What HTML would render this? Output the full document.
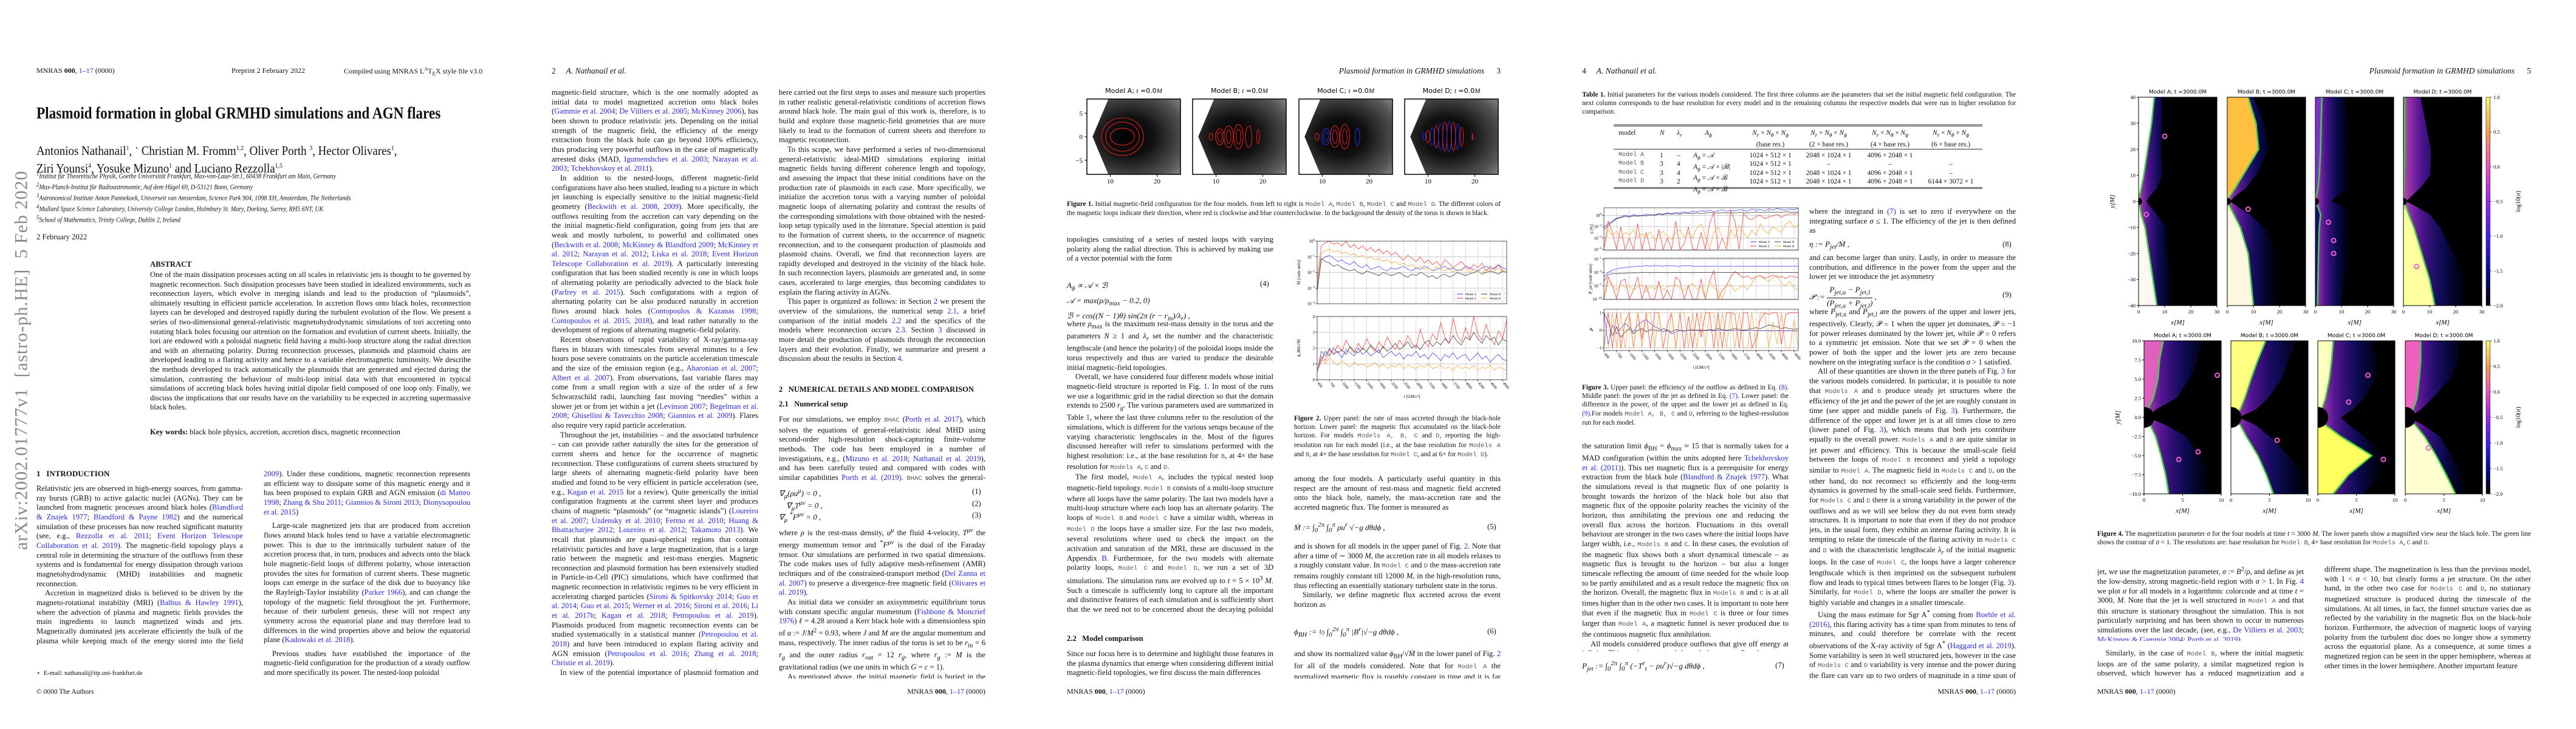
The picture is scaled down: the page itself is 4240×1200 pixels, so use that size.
<!DOCTYPE html>
<html lang="en"><head><meta charset="utf-8">
<style>
html,body{margin:0;padding:0;background:#fff;}
body{width:4240px;height:1200px;position:relative;overflow:hidden;font-family:"Liberation Serif",serif;color:#111;}
.page{position:absolute;top:0;width:848px;height:1200px;background:#fff;}
.abs{position:absolute;}
.hdr{position:absolute;top:109px;font-size:13.5px;white-space:nowrap;}
.col{position:absolute;font-size:12.6px;line-height:15.66px;text-align:justify;overflow:hidden;hyphens:auto;-webkit-hyphens:auto;}
.col p{margin:0;text-indent:14px;}
.col p.ni{text-indent:0;}
.cap{position:absolute;font-size:11.2px;line-height:14.2px;text-align:justify;overflow:hidden;}
a,.l{color:#2a2ad0;text-decoration:none;}
.tt{font-family:"Liberation Mono",monospace;font-size:10.5px;color:#555;}
.eq{position:absolute;font-size:13px;font-style:italic;white-space:nowrap;}
.eqn{position:absolute;font-size:12.6px;white-space:nowrap;}
.sec{position:absolute;font-size:13px;font-weight:bold;white-space:nowrap;}
.foot{position:absolute;top:1131px;font-size:12px;white-space:nowrap;}
svg.over{position:absolute;left:0;top:0;}
</style></head>
<body>

<!-- PAGE 1 -->
<div class="page" style="left:0">
 <div class="hdr" style="left:60px;font-size:12px">MNRAS <b>000</b>, <span class="l">1–17</span> (0000)</div>
 <div class="hdr" style="left:381px;font-size:12px">Preprint 2 February 2022</div>
 <div class="hdr" style="left:566px;font-size:12px">Compiled using MNRAS L<sup style="font-size:8px">A</sup>T<sub style="font-size:9px">E</sub>X style file v3.0</div>
 <div class="abs" style="left:60px;top:171px;font-size:27px;font-weight:bold;white-space:nowrap;transform:scaleX(0.86);transform-origin:left top">Plasmoid formation in global GRMHD simulations and AGN flares</div>
 <div class="abs" style="left:60px;top:232px;font-size:21px;line-height:25px;white-space:nowrap;transform:scaleX(0.9);transform-origin:left top">Antonios Nathanail<sup style="font-size:11px">1</sup>, <sup style="font-size:11px;color:#2a2ad0">⋆</sup> Christian M. Fromm<sup style="font-size:11px">1,2</sup>, Oliver Porth <sup style="font-size:11px">3</sup>, Hector Olivares<sup style="font-size:11px">1</sup>,<br>Ziri Younsi<sup style="font-size:11px">4</sup>, Yosuke Mizuno<sup style="font-size:11px">1</sup> and Luciano Rezzolla<sup style="font-size:11px">1,5</sup></div>
 <div class="abs" style="left:60px;top:280px;font-size:11.2px;line-height:14.2px;font-style:italic;white-space:nowrap;transform:scaleX(0.9);transform-origin:left top">
  <sup>1</sup>Institut für Theoretische Physik, Goethe Universität Frankfurt, Max-von-Laue-Str.1, 60438 Frankfurt am Main, Germany<br>
  <sup>2</sup>Max-Planck-Institut für Radioastronomie, Auf dem Hügel 69, D-53121 Bonn, Germany<br>
  <sup>3</sup>Astronomical Institute Anton Pannekoek, Universeit van Amsterdam, Science Park 904, 1098 XH, Amsterdam, The Netherlands<br>
  <sup>4</sup>Mullard Space Science Laboratory, University College London, Holmbury St. Mary, Dorking, Surrey, RH5 6NT, UK<br>
  <sup>5</sup>School of Mathematics, Trinity College, Dublin 2, Ireland</div>
 <div class="abs" style="left:60px;top:383px;font-size:12.6px">2 February 2022</div>
 <div class="abs" style="left:-240px;top:612px;width:551px;height:36px;transform:rotate(-90deg);font-size:30px;color:#8a8a8a;white-space:nowrap;text-align:center;line-height:36px;letter-spacing:1px">arXiv:2002.01777v1&nbsp;&nbsp;[astro-ph.HE]&nbsp;&nbsp;5 Feb 2020</div>
 <div class="sec" style="left:247px;top:428px;font-size:12.6px">ABSTRACT</div>
 <div class="col" style="left:247px;top:445px;width:528px;height:250px;line-height:15.6px"><p class="ni">One of the main dissipation processes acting on all scales in relativistic jets is thought to be governed by magnetic reconnection. Such dissipation processes have been studied in idealized environments, such as reconnection layers, which evolve in merging islands and lead to the production of “plasmoids”, ultimately resulting in efficient particle acceleration. In accretion flows onto black holes, reconnection layers can be developed and destroyed rapidly during the turbulent evolution of the flow. We present a series of two-dimensional general-relativistic magnetohydrodynamic simulations of tori accreting onto rotating black holes focusing our attention on the formation and evolution of current sheets. Initially, the tori are endowed with a poloidal magnetic field having a multi-loop structure along the radial direction and with an alternating polarity. During reconnection processes, plasmoids and plasmoid chains are developed leading to a flaring activity and hence to a variable electromagnetic luminosity. We describe the methods developed to track automatically the plasmoids that are generated and ejected during the simulation, contrasting the behaviour of multi-loop initial data with that encountered in typical simulations of accreting black holes having initial dipolar field composed of one loop only. Finally, we discuss the implications that our results have on the variability to be expected in accreting supermassive black holes.</p></div>
 <div class="abs" style="left:247px;top:704px;font-size:12.6px;white-space:nowrap"><b>Key words:</b> black hole physics, accretion, accretion discs, magnetic reconnection</div>
 <div class="sec" style="left:60px;top:772px">1&nbsp;&nbsp;&nbsp;INTRODUCTION</div>
 <div class="col" style="left:60px;top:797px;width:340px;height:267px"><p class="ni">Relativistic jets are observed in high-energy sources, from gamma-ray bursts (GRB) to active galactic nuclei (AGNs). They can be launched from magnetic processes around black holes (<a>Blandford &amp; Znajek 1977</a>; <a>Blandford &amp; Payne 1982</a>) and the numerical simulation of these processes has now reached significant maturity (see, e.g., <a>Rezzolla et al. 2011</a>; <a>Event Horizon Telescope Collaboration et al. 2019</a>). The magnetic-field topology plays a central role in determining the structure of the outflows from these systems and is fundamental for energy dissipation through various magnetohydrodynamic (MHD) instabilities and magnetic reconnection.</p><p>Accretion in magnetized disks is believed to be driven by the magneto-rotational instability (MRI) (<a>Balbus &amp; Hawley 1991</a>), where the advection of plasma and magnetic fields provides the main ingredients to launch magnetized winds and jets. Magnetically dominated jets accelerate efficiently the bulk of the plasma while keeping much of the energy stored into the field itself (<a>Komissarov et al. 2009</a>; <a>Lyubarsky 2009</a>; <a>Tchekhovskoy et al.</a></p></div>
 <div class="abs" style="left:60px;top:1102px;font-size:10.5px;white-space:nowrap">⋆&nbsp; E-mail: nathanail@itp.uni-frankfurt.de</div>
 <div class="abs" style="left:60px;top:1133px;font-size:11.5px;white-space:nowrap">© 0000 The Authors</div>
 <div class="col" style="left:434px;top:773px;width:340px;height:345px"><p class="ni"><a>2009</a>). Under these conditions, magnetic reconnection represents an efficient way to dissipate some of this magnetic energy and it has been proposed to explain GRB and AGN emission (<a>di Matteo 1998</a>; <a>Zhang &amp; Shu 2011</a>; <a>Giannios &amp; Sironi 2013</a>; <a>Dionysopoulou et al. 2015</a>)</p><p style="margin-top:7px">Large-scale magnetized jets that are produced from accretion flows around black holes tend to have a variable electromagnetic power. This is due to the intrinsically turbulent nature of the accretion process that, in turn, produces and advects onto the black hole magnetic-field loops of different polarity, whose interaction provides the sites for formation of current sheets. These magnetic loops can emerge in the surface of the disk due to buoyancy like the Rayleigh-Taylor instability (<a>Parker 1966</a>), and can change the topology of the magnetic field throughout the jet. Furthermore, because of their turbulent genesis, these will not respect any symmetry across the equatorial plane and may therefore lead to differences in the wind properties above and below the equatorial plane (<a>Kadowaki et al. 2018</a>).</p><p style="margin-top:7px">Previous studies have established the importance of the magnetic-field configuration for the production of a steady outflow and more specifically its power. The nested-loop poloidal</p></div>
</div>

<!-- PAGE 2 -->
<div class="page" style="left:848px">
 <div class="hdr" style="left:60px">2&nbsp;&nbsp;&nbsp;&nbsp;&nbsp;<i>A. Nathanail et al.</i></div>
 <div class="col" style="left:60px;top:145px;width:340px;height:972px"><p class="ni">magnetic-field structure, which is the one normally adopted as initial data to model magnetized accretion onto black holes (<a>Gammie et al. 2004</a>; <a>De Villiers et al. 2005</a>; <a>McKinney 2006</a>), has been shown to produce relativistic jets. Depending on the initial strength of the magnetic field, the efficiency of the energy extraction from the black hole can go beyond 100% efficiency, thus producing very powerful outflows in the case of magnetically arrested disks (MAD, <a>Igumenshchev et al. 2003</a>; <a>Narayan et al. 2003</a>; <a>Tchekhovskoy et al. 2011</a>).</p><p>In addition to the nested-loops, different magnetic-field configurations have also been studied, leading to a picture in which jet launching is especially sensitive to the initial magnetic-field geometry (<a>Beckwith et al. 2008, 2009</a>). More specifically, the outflows resulting from the accretion can vary depending on the the initial magnetic-field configuration, going from jets that are weak and mostly turbulent, to powerful and collimated ones (<a>Beckwith et al. 2008</a>; <a>McKinney &amp; Blandford 2009</a>; <a>McKinney et al. 2012</a>; <a>Narayan et al. 2012</a>; <a>Liska et al. 2018</a>; <a>Event Horizon Telescope Collaboration et al. 2019</a>). A particularly interesting configuration that has been studied recently is one in which loops of alternating polarity are periodically advected to the black hole (<a>Parfrey et al. 2015</a>). Such configurations with a region of alternating polarity can be also produced naturally in accretion flows around black holes (<a>Contopoulos &amp; Kazanas 1998</a>; <a>Contopoulos et al. 2015, 2018</a>), and lead rather naturally to the development of regions of alternating magnetic-field polarity.</p><p>Recent observations of rapid variability of X-ray/gamma-ray flares in blazars with timescales from several minutes to a few hours pose severe constraints on the particle acceleration timescale and the size of the emission region (e.g., <a>Aharonian et al. 2007</a>; <a>Albert et al. 2007</a>). From observations, fast variable flares may come from a small region with a size of the order of a few Schwarzschild radii, launching fast moving “needles” within a slower jet or from jet within a jet (<a>Levinson 2007</a>; <a>Begelman et al. 2008</a>; <a>Ghisellini &amp; Tavecchio 2008</a>; <a>Giannios et al. 2009</a>). Flares also require very rapid particle acceleration.</p><p>Throughout the jet, instabilities – and the associated turbulence – can can provide rather naturally the sites for the generation of current sheets and hence for the occurrence of magnetic reconnection. These configurations of current sheets structured by large sheets of alternating magnetic-field polarity have been studied and found to be very efficient in particle acceleration (see, e.g., <a>Kagan et al. 2015</a> for a review). Quite generically the initial configuration fragments at the current sheet layer and produces chains of magnetic “plasmoids” (or “magnetic islands”) (<a>Loureiro et al. 2007</a>; <a>Uzdensky et al. 2010</a>; <a>Fermo et al. 2010</a>; <a>Huang &amp; Bhattacharjee 2012</a>; <a>Loureiro et al. 2012</a>; <a>Takamoto 2013</a>). We recall that plasmoids are quasi-spherical regions that contain relativistic particles and have a large magnetization, that is a large ratio between the magnetic and rest-mass energies. Magnetic reconnection and plasmoid formation has been extensively studied in Particle-in-Cell (PIC) simulations, which have confirmed that magnetic reconnection in relativistic regimes to be very efficient in accelerating charged particles (<a>Sironi &amp; Spitkovsky 2014</a>; <a>Guo et al. 2014</a>; <a>Guo et al. 2015</a>; <a>Werner et al. 2016</a>; <a>Sironi et al. 2016</a>; <a>Li et al. 2017b</a>; <a>Kagan et al. 2018</a>; <a>Petropoulou et al. 2019</a>). Plasmoids produced from magnetic reconnection events can be studied systematically in a statistical manner (<a>Petropoulou et al. 2018</a>) and have been introduced to explain flaring activity and AGN emission (<a>Petropoulou et al. 2016</a>; <a>Zhang et al. 2018</a>; <a>Christie et al. 2019</a>).</p><p>In view of the potential importance of plasmoid formation and evolution in the dynamics and energetics of relativistic jets, we have</p></div>
 <div class="col" style="left:434px;top:145px;width:340px;height:455px"><p class="ni">here carried out the first steps to asses and measure such properties in rather realistic general-relativistic conditions of accretion flows around black hole. The main goal of this work is, therefore, is to build and explore those magnetic-field geometries that are more likely to lead to the formation of current sheets and therefore to magnetic reconnection.</p><p>To this scope, we have performed a series of two-dimensional general-relativistic ideal-MHD simulations exploring initial magnetic fields having different coherence length and topology, and assessing the impact that these initial conditions have on the production rate of plasmoids in each case. More specifically, we initialize the accretion torus with a varying number of poloidal magnetic loops of alternating polarity and contrast the results of the corresponding simulations with those obtained with the nested-loop setup typically used in the literature. Special attention is paid to the formation of current sheets, to the occurrence of magnetic reconnection, and to the consequent production of plasmoids and plasmoid chains. Overall, we find that reconnection layers are rapidly developed and destroyed in the vicinity of the black hole. In such reconnection layers, plasmoids are generated and, in some cases, accelerated to large energies, thus becoming candidates to explain the flaring activity in AGNs.</p><p>This paper is organized as follows: in Section <a>2</a> we present the overview of the simulations, the numerical setup <a>2.1</a>, a brief comparison of the initial models <a>2.2</a> and the specifics of the models where reconnection occurs <a>2.3</a>. Section <a>3</a> discussed in more detail the production of plasmoids through the reconnection layers and their evolution. Finally, we summarize and present a discussion about the results in Section <a>4</a>.</p></div>
 <div class="sec" style="left:434px;top:634px;font-size:12.6px">2&nbsp;&nbsp;&nbsp;NUMERICAL DETAILS AND MODEL COMPARISON</div>
 <div class="sec" style="left:434px;top:658px;font-size:12.6px">2.1&nbsp;&nbsp;&nbsp;Numerical setup</div>
 <div class="col" style="left:434px;top:683px;width:340px;height:110px"><p class="ni">For our simulations, we employ <span class="tt">BHAC</span> (<a>Porth et al. 2017</a>), which solves the equations of general-relativistic ideal MHD using second-order high-resolution shock-capturing finite-volume methods. The code has been employed in a number of investigations, e.g., (<a>Mizuno et al. 2018</a>; <a>Nathanail et al. 2019</a>), and has been carefully tested and compared with codes with similar capabilities <a>Porth et al. (2019)</a>. <span class="tt">BHAC</span> solves the general-relativistic MHD equations</p></div>
 <div class="eq" style="left:434px;top:802px">∇<sub>μ</sub>(ρu<sup>μ</sup>) = 0 ,</div>
 <div class="eq" style="left:446px;top:822px">∇<sub>μ</sub>T<sup>μν</sup> = 0 ,</div>
 <div class="eq" style="left:434px;top:841px">∇<sub>μ</sub> <sup>*</sup>F<sup>μν</sup> = 0 ,</div>
 <div class="eqn" style="left:752px;top:802px">(1)</div>
 <div class="eqn" style="left:752px;top:822px">(2)</div>
 <div class="eqn" style="left:752px;top:841px">(3)</div>
 <div class="col" style="left:434px;top:866px;width:340px;height:251px"><p class="ni">where <i>ρ</i> is the rest-mass density, <i>u<sup>μ</sup></i> the fluid 4-velocity, <i>T<sup>μν</sup></i> the energy momentum tensor and <sup>*</sup><i>F<sup>μν</sup></i> is the dual of the Faraday tensor. Our simulations are performed in two spatial dimensions. The code makes uses of fully adaptive mesh-refinement (AMR) techniques and of the constrained-transport method (<a>Del Zanna et al. 2007</a>) to preserve a divergence-free magnetic field (<a>Olivares et al. 2019</a>).</p><p>As initial data we consider an axisymmetric equilibrium torus with constant specific angular momentum (<a>Fishbone &amp; Moncrief 1976</a>) <i>ℓ</i> = 4.28 around a Kerr black hole with a dimensionless spin of <i>a</i> := <i>J</i>/<i>M</i><sup>2</sup> = 0.93, where <i>J</i> and <i>M</i> are the angular momentum and mass, respectively. The inner radius of the torus is set to be <i>r</i><sub>in</sub> = 6 <i>r<sub>g</sub></i> and the outer radius <i>r</i><sub>out</sub> = 12 <i>r<sub>g</sub></i>, where <i>r<sub>g</sub></i> := <i>M</i> is the gravitational radius (we use units in which <i>G</i> = <i>c</i> = 1).</p><p>As mentioned above, the initial magnetic field is buried in the torus and purely poloidal, but chosen so as to have four different</p></div>
 <div class="foot" style="right:74px">MNRAS <b>000</b>, <span class="l">1–17</span> (0000)</div>
</div>

<!-- PAGE 3 -->
<div class="page" style="left:1696px">
 <div class="hdr" style="right:74px"><i>Plasmoid formation in GRMHD simulations</i>&nbsp;&nbsp;&nbsp;&nbsp;&nbsp;&nbsp;3</div>
 <svg class="over" id="p3svg" width="848" height="1200"></svg>
 <div class="cap" style="left:60px;top:329px;width:714px;height:30px"><b>Figure 1.</b> Initial magnetic-field configuration for the four models. from left to right is <span class="tt">Model A</span>, <span class="tt">Model B</span>, <span class="tt">Model C</span> and <span class="tt">Model D</span>. The different colors of the magnetic loops indicate their direction, where red is clockwise and blue counterclockwise. In the background the density of the torus is shown in black.</div>
 <div class="col" style="left:60px;top:387px;width:340px;height:48px"><p class="ni">topologies consisting of a series of nested loops with varying polarity along the radial direction. This is achieved by making use of a vector potential with the form</p></div>
 <div class="eq" style="left:60px;top:460px;line-height:19.5px">A<sub>ϕ</sub> ∝ 𝒜 × ℬ<br>𝒜 = max(ρ/ρ<sub>max</sub> − 0.2, 0)<br>ℬ = cos((N − 1)θ) sin(2π (r − r<sub>in</sub>)/λ<sub>r</sub>) ,</div>
 <div class="eqn" style="left:378px;top:460px">(4)</div>
 <div class="col" style="left:60px;top:526px;width:340px;height:487px"><p class="ni">where <i>ρ</i><sub>max</sub> is the maximum rest-mass density in the torus and the parameters <i>N</i> ≥ 1 and <i>λ<sub>r</sub></i> set the number and the characteristic lengthscale (and hence the polarity) of the poloidal loops inside the torus respectively and thus are varied to produce the desirable initial magnetic-field topologies.</p><p>Overall, we have considered four different models whose initial magnetic-field structure is reported in Fig. <a>1</a>. In most of the runs we use a logarithmic grid in the radial direction so that the domain extends to 2500 <i>r<sub>g</sub></i>. The various parameters used are summarized in Table <a>1</a>, where the last three columns refer to the resolution of the simulations, which is different for the various setups because of the varying characteristic lengthscales in the. Most of the figures discussed hereafter will refer to simulations performed with the highest resolution: i.e., at the base resolution for <span class="tt">B</span>, at 4× the base resolution for <span class="tt">Models A</span>, <span class="tt">C</span> and <span class="tt">D</span>.</p><p>The first model, <span class="tt">Model A</span>, includes the typical nested loop magnetic-field topology. <span class="tt">Model B</span> consists of a multi-loop structure where all loops have the same polarity. The last two models have a multi-loop structure where each loop has an alternate polarity. The loops of <span class="tt">Model B</span> and <span class="tt">Model C</span> have a similar width, whereas in <span class="tt">Model D</span> the loops have a smaller size. For the last two models, several resolutions where used to check the impact on the activation and saturation of the MRI, these are discussed in the Appendix <a>B</a>. Furthermore, for the two models with alternate polarity loops, <span class="tt">Model C</span> and <span class="tt">Model D</span>, we run a set of 3<i>D</i> simulations. The simulation runs are evolved up to <i>t</i> = 5 × 10<sup>3</sup> <i>M</i>. Such a timescale is sufficiently long to capture all the important and distinctive features of each simulation and is sufficiently short that the we need not to be concerned about the decaying poloidal magnetic field, which takes place in axisymmetry as a consequence of the decay of turbulence (<a>Cowling 1933</a>; <a>Sądowski et al. 2015</a>).</p></div>
 <div class="sec" style="left:60px;top:1044px;font-size:12.6px">2.2&nbsp;&nbsp;&nbsp;Model comparison</div>
 <div class="col" style="left:60px;top:1069px;width:340px;height:48px"><p class="ni">Since our focus here is to determine and highlight those features in the plasma dynamics that emerge when considering different initial magnetic-field topologies, we first discuss the main differences</p></div>
 <div class="cap" style="left:434px;top:682px;width:340px;height:72px"><b>Figure 2.</b> Upper panel: the rate of mass accreted through the black-hole horizon. Lower panel: the magnetic flux accumulated on the black-hole horizon. For models <span class="tt">Models A, B, C</span> and <span class="tt">D</span>, reporting the high-resolution run for each model (i.e., at the base resolution for <span class="tt">Models A</span> and <span class="tt">B</span>, at 4× the base resolution for <span class="tt">Model C</span>, and at 6× for <span class="tt">Model D</span>).</div>
 <div class="col" style="left:434px;top:781px;width:340px;height:63px"><p class="ni">among the four models. A particularly useful quantity in this respect are the amount of rest-mass and magnetic field accreted onto the black hole, namely, the mass-accretion rate and the accreted magnetic flux. The former is measured as</p></div>
 <div class="eq" style="left:434px;top:858px">Ṁ := ∫<sub>0</sub><sup>2π</sup> ∫<sub>0</sub><sup>π</sup> ρu<sup>r</sup> √−g dθdϕ ,</div>
 <div class="eqn" style="left:752px;top:860px">(5)</div>
 <div class="col" style="left:434px;top:892px;width:340px;height:126px"><p class="ni">and is shown for all models in the upper panel of Fig. <a>2</a>. Note that after a time of ∼ 3000 <i>M</i>, the accretion rate in all models relaxes to a roughly constant value. In <span class="tt">Model C</span> and <span class="tt">D</span> the mass-accretion rate remains roughly constant till 12000 <i>M</i>, in the high-resolution runs, thus reflecting an essentially stationary turbulent state in the torus.</p><p>Similarly, we define magnetic flux accreted across the event horizon as</p></div>
 <div class="eq" style="left:434px;top:1030px">ϕ<sub>BH</sub> := ½ ∫<sub>0</sub><sup>2π</sup> ∫<sub>0</sub><sup>π</sup> |B<sup>r</sup>|√−g dθdϕ ,</div>
 <div class="eqn" style="left:752px;top:1032px">(6)</div>
 <div class="col" style="left:434px;top:1069px;width:340px;height:48px"><p class="ni">and show its normalized value <i>ϕ</i><sub>BH</sub>/√<i>Ṁ</i> in the lower panel of Fig. <a>2</a> for all of the models considered. Note that for <span class="tt">Model A</span> the normalized magnetic flux is roughly constant in time and it is far below</p></div>
 <div class="foot" style="left:60px">MNRAS <b>000</b>, <span class="l">1–17</span> (0000)</div>
</div>

<!-- PAGE 4 -->
<div class="page" style="left:2544px">
 <div class="hdr" style="left:60px">4&nbsp;&nbsp;&nbsp;&nbsp;&nbsp;<i>A. Nathanail et al.</i></div>
 <div class="cap" style="left:60px;top:149px;width:714px;height:44px"><b>Table 1.</b> Initial parameters for the various models considered. The first three columns are the parameters that set the initial magnetic field configuration. The next column corresponds to the base resolution for every model and in the remaining columns the respective models that were run in higher resolution for comparison.</div>
 <div class="abs" style="left:112px;top:205px;width:607px;border-top:3px double #333"></div>
 <div class="abs" style="left:112px;top:245px;width:607px;border-top:1px solid #333"></div>
 <div class="abs" style="left:112px;top:308px;width:607px;border-top:3px double #333"></div>
 <div class="abs" style="left:0;top:0;font-size:11.3px;line-height:14.4px;white-space:nowrap">
  <div class="abs" style="left:120px;top:212px">model</div>
  <div class="abs" style="left:188px;top:212px"><i>N</i></div>
  <div class="abs" style="left:216px;top:212px"><i>λ<sub>r</sub></i></div>
  <div class="abs" style="left:262px;top:212px"><i>A<sub>ϕ</sub></i></div>
  <div class="abs" style="left:330px;top:212px;text-align:center;width:80px"><i>N<sub>r</sub></i> × <i>N<sub>θ</sub></i> × <i>N<sub>ϕ</sub></i><br>(base res.)</div>
  <div class="abs" style="left:426px;top:212px;text-align:center;width:80px"><i>N<sub>r</sub></i> × <i>N<sub>θ</sub></i> × <i>N<sub>ϕ</sub></i><br>(2 × base res.)</div>
  <div class="abs" style="left:527px;top:212px;text-align:center;width:80px"><i>N<sub>r</sub></i> × <i>N<sub>θ</sub></i> × <i>N<sub>ϕ</sub></i><br>(4 × base res.)</div>
  <div class="abs" style="left:627px;top:212px;text-align:center;width:80px"><i>N<sub>r</sub></i> × <i>N<sub>θ</sub></i> × <i>N<sub>ϕ</sub></i><br>(6 × base res.)</div>
  <div class="abs tt" style="left:120px;top:249px;line-height:14.4px;font-size:10px">Model A<br>Model B<br>Model C<br>Model D</div>
  <div class="abs" style="left:188px;top:249px">1<br>3<br>3<br>3</div>
  <div class="abs" style="left:216px;top:249px">–<br>4<br>4<br>2</div>
  <div class="abs" style="left:243px;top:249px"><i>A<sub>ϕ</sub></i> = 𝒜<br><i>A<sub>ϕ</sub></i> = 𝒜 × |ℬ|<br><i>A<sub>ϕ</sub></i> = 𝒜 × ℬ<br><i>A<sub>ϕ</sub></i> = 𝒜 × ℬ</div>
  <div class="abs" style="left:330px;top:249px;width:80px;text-align:center">1024 × 512 × 1<br>1024 × 512 × 1<br>1024 × 512 × 1<br>1024 × 512 × 1</div>
  <div class="abs" style="left:426px;top:249px;width:80px;text-align:center">2048 × 1024 × 1<br>–<br>2048 × 1024 × 1<br>2048 × 1024 × 1</div>
  <div class="abs" style="left:527px;top:249px;width:80px;text-align:center">4096 × 2048 × 1<br>–<br>4096 × 2048 × 1<br>4096 × 2048 × 1</div>
  <div class="abs" style="left:627px;top:249px;width:80px;text-align:center"><br>–<br>–<br>6144 × 3072 × 1</div>
 </div>
 <svg class="over" id="p4svg" width="848" height="1200"></svg>
 <div class="cap" style="left:60px;top:631px;width:340px;height:72px"><b>Figure 3.</b> Upper panel: the efficiency of the outflow as defined in Eq. <a>(8)</a>. Middle panel: the power of the jet as defined in Eq. <a>(7)</a>. Lower panel: the difference in the power, of the upper and the lower jet as defined in Eq. <a>(9)</a>.For models <span class="tt">Model A, B, C</span> and <span class="tt">D</span>, referring to the highest-resolution run for each model.</div>
 <div class="col" style="left:60px;top:727px;width:340px;height:345px"><p class="ni">the saturation limit <i>ϕ</i><sub>BH</sub> = <i>ϕ</i><sub>max</sub> ≈ 15 that is normally taken for a MAD configuration (within the units adopted here <a>Tchekhovskoy et al. (2011)</a>). This net magnetic flux is a prerequisite for energy extraction from the black hole (<a>Blandford &amp; Znajek 1977</a>). What the simulations reveal is that magnetic flux of one polarity is brought towards the horizon of the black hole but also that magnetic flux of the opposite polarity reaches the vicinity of the horizon, thus annihilating the previous one and reducing the overall flux across the horizon. Fluctuations in this overall behaviour are stronger in the two cases where the initial loops have larger width, i.e., <span class="tt">Models B</span> and <span class="tt">C</span>. In these cases, the evolution of the magnetic flux shows both a short dynamical timescale – as magnetic flux is brought to the horizon – but also a longer timescale reflecting the amount of time needed for the whole loop to be partly annihilated and as a result reduce the magnetic flux on the horizon. Overall, the magnetic flux in <span class="tt">Models B</span> and <span class="tt">C</span> is at all times higher than in the other two cases. It is important to note here that even if the magnetic flux in <span class="tt">Model C</span> is three or four times larger than <span class="tt">Model A</span>, a magnetic funnel is never produced due to the continuous magnetic flux annihilation.</p><p>All models considered produce outflows that give off energy at infinity. This can be measured through the energy flux that passes through a 2-sphere placed at 50 <i>r<sub>g</sub></i></p></div>
 <div class="eq" style="left:60px;top:1086px">P<sub>jet</sub> := ∫<sub>0</sub><sup>2π</sup> ∫<sub>0</sub><sup>π</sup> (−T<sup>r</sup><sub>t</sub> − ρu<sup>r</sup>)√−g dθdϕ ,</div>
 <div class="eqn" style="left:378px;top:1088px">(7)</div>
 <div class="col" style="left:434px;top:341px;width:340px;height:48px"><p class="ni">where the integrand in <a>(7)</a> is set to zero if everywhere on the integrating surface <i>σ</i> ≤ 1. The efficiency of the jet is then defined as</p></div>
 <div class="eq" style="left:434px;top:394px">η := P<sub>jet</sub>/Ṁ ,</div>
 <div class="eqn" style="left:752px;top:395px">(8)</div>
 <div class="col" style="left:434px;top:417px;width:340px;height:48px"><p class="ni">and can become larger than unity. Lastly, in order to measure the contribution, and difference in the power from the upper and the lower jet we introduce the jet asymmetry</p></div>
 <div class="eq" style="left:434px;top:469px;line-height:16px">𝒫 := <span style="display:inline-block;text-align:center;vertical-align:middle"><span style="border-bottom:1px solid #111;display:block">P<sub>jet,u</sub> − P<sub>jet,l</sub></span>(P<sub>jet,u</sub> + P<sub>jet,l</sub>)</span> ,</div>
 <div class="eqn" style="left:752px;top:478px">(9)</div>
 <div class="col" style="left:434px;top:506px;width:340px;height:611px"><p class="ni">where <i>P</i><sub>jet,u</sub> and <i>P</i><sub>jet,l</sub> are the powers of the upper and lower jets, respectively. Clearly, 𝒫 ≃ 1 when the upper jet dominates, 𝒫 ≃ −1 for power releases dominated by the lower jet, while 𝒫 ≃ 0 refers to a symmetric jet emission. Note that we set 𝒫 = 0 when the power of both the upper and the lower jets are zero because nowhere on the integrating surface is the condition <i>σ</i> &gt; 1 satisfied.</p><p>All of these quantities are shown in the three panels of Fig. <a>3</a> for the various models considered. In particular, it is possible to note that <span class="tt">Models A</span> and <span class="tt">B</span> produce steady jet structures where the efficiency of the jet and the power of the jet are roughly constant in time (see upper and middle panels of Fig. <a>3</a>). Furthermore, the difference of the upper and lower jet is at all times close to zero (lower panel of Fig. <a>3</a>), which means that both jets contribute equally to the overall power. <span class="tt">Models A</span> and <span class="tt">B</span> are quite similar in jet power and efficiency. This is because the small-scale field between the loops of <span class="tt">Model B</span> reconnect and yield a topology similar to <span class="tt">Model A</span>. The magnetic field in <span class="tt">Models C</span> and <span class="tt">D</span>, on the other hand, do not reconnect so efficiently and the long-term dynamics is governed by the small-scale seed fields. Furthermore, for <span class="tt">Models C</span> and <span class="tt">D</span> there is a strong variability in the power of the outflows and as we will see below they do not even form steady structures. It is important to note that even if they do not produce jets, in the usual form, they exhibit an intense flaring activity. It is tempting to relate the timescale of the flaring activity in <span class="tt">Models C</span> and <span class="tt">D</span> with the characteristic lengthscale <i>λ<sub>r</sub></i> of the initial magnetic loops. In the case of <span class="tt">Model C</span>, the loops have a larger coherence lengthscale which is then imprinted on the subsequent turbulent flow and leads to typical times between flares to be longer (Fig. <a>3</a>). Similarly, for <span class="tt">Model D</span>, where the loops are smaller the power is highly variable and changes in a smaller timescale.</p><p>Using the mass estimate for Sgr A<sup>*</sup> coming from <a>Boehle et al. (2016)</a>, this flaring activity has a time span from minutes to tens of minutes, and could therefore be correlate with the recent observations of the X-ray activity of Sgr A<sup>*</sup> (<a>Haggard et al. 2019</a>). Some variability is seen in well structured jets, however in the case of <span class="tt">Models C</span> and <span class="tt">D</span> variability is very intense and the power during the flare can vary up to two orders of magnitude in a time span of tens of minutes for Sgr A<sup>*</sup> (<a>Do et al. 2019</a>).</p><p>In order to delimit and visualize the region representing the</p></div>
 <div class="foot" style="right:74px">MNRAS <b>000</b>, <span class="l">1–17</span> (0000)</div>
</div>

<!-- PAGE 5 -->
<div class="page" style="left:3392px">
 <div class="hdr" style="right:74px"><i>Plasmoid formation in GRMHD simulations</i>&nbsp;&nbsp;&nbsp;&nbsp;&nbsp;&nbsp;5</div>
 <svg class="over" id="p5svg" width="848" height="1200"></svg>
 <div class="cap" style="left:60px;top:872px;width:714px;height:30px"><b>Figure 4.</b> The magnetization parameter <i>σ</i> for the four models at time <i>t</i> = 3000 <i>M</i>. The lower panels show a magnified view near the black hole. The green line shows the contour of <i>σ</i> = 1. The resolutions are: base resolution for <span class="tt">Model B</span>, 4× base resolution for <span class="tt">Models A</span>, <span class="tt">C</span> and <span class="tt">D</span>.</div>
 <div class="col" style="left:60px;top:930px;width:340px;height:125px"><p class="ni">jet, we use the magnetization parameter, <i>σ</i> := <i>B</i><sup>2</sup>/<i>ρ</i>, and define as jet the low-density, strong magnetic-field region with <i>σ</i> &gt; 1. In Fig. <a>4</a> we plot <i>σ</i> for all models in a logarithmic colorcode and at time <i>t</i> = 3000, <i>M</i>. Note that the jet is well structured in <span class="tt">Model A</span> and that this structure is stationary throughout the simulation. This is not particularly surprising and has been shown to occur in numerous simulations over the last decade, (see, e.g., <a>De Villiers et al. 2003</a>; <a>McKinney &amp; Gammie 2004</a>; <a>Porth et al. 2019</a>).</p></div>
 <div class="col" style="left:60px;top:1068px;width:340px;height:48px"><p>Similarly, in the case of <span class="tt">Model B</span>, where the initial magnetic loops are of the same polarity, a similar magnetized region is observed, which however has a reduced magnetization and a slightly</p></div>
 <div class="col" style="left:434px;top:930px;width:340px;height:173px"><p class="ni">different shape. The magnetization is less than the previous model, with 1 &lt; <i>σ</i> &lt; 10, but clearly forms a jet structure. On the other hand, in the other two case for <span class="tt">Models C</span> and <span class="tt">D</span>, no stationary magnetized structure is produced during the timescale of the simulations. At all times, in fact, the funnel structure varies due as reflected by the variability in the magnetic flux on the black-hole horizon. Furthermore, the advection of magnetic loops of varying polarity from the turbulent disc does no longer show a symmetry across the equatorial plane. As a consequence, at some times a magnetized region can be seen in the upper hemisphere, whereas at other times in the lower hemisphere. Another important feature</p></div>
 <div class="foot" style="left:60px">MNRAS <b>000</b>, <span class="l">1–17</span> (0000)</div>
</div>

<script>
// ===== Figure 1 data: initial magnetic loops (torus coordinates) =====
const fig1Models = ['Model A', 'Model B', 'Model C', 'Model D'];
const fig1XTicks = [10, 20];
const fig1YTicks = [5, 0, -5];
const loopsAX = [12.6, 12.6, 12.6];
const loopsARx = [2.6, 3.6, 4.5];
const loopsARy = [1.8, 3.1, 4.0];
const loopsAC = ['r', 'r', 'r'];
const loopsBX = [8.9, 10.8, 10.8, 12.7, 12.7, 14.8, 14.8, 17.0, 19.0];
const loopsBRx = [0.4, 0.5, 0.9, 0.5, 1.0, 0.5, 1.0, 0.7, 0.3];
const loopsBRy = [0.7, 1.0, 1.7, 1.4, 2.3, 1.6, 2.6, 2.3, 1.5];
const loopsBC = ['r', 'r', 'r', 'r', 'r', 'r', 'r', 'r', 'r'];
const loopsCX = [8.9, 10.8, 10.8, 12.7, 12.7, 14.8, 14.8, 17.5];
const loopsCRx = [0.4, 0.5, 0.9, 0.5, 1.0, 0.5, 1.0, 0.5];
const loopsCRy = [0.7, 1.0, 1.7, 1.4, 2.3, 1.6, 2.6, 1.8];
const loopsCC = ['r', 'b', 'b', 'r', 'r', 'r', 'r', 'b'];
const loopsDX = [9.2, 10.0, 10.9, 11.8, 12.7, 13.6, 14.5, 15.4, 16.3, 17.2, 19.5];
const loopsDRx = [0.3, 0.4, 0.4, 0.45, 0.45, 0.45, 0.45, 0.45, 0.4, 0.35, 0.1];
const loopsDRy = [0.8, 1.3, 1.9, 2.4, 2.8, 3.1, 3.2, 3.0, 2.7, 2.0, 0.6];
const loopsDC = ['b', 'r', 'b', 'r', 'b', 'r', 'b', 'r', 'b', 'r', 'r'];

// ===== Figure 2 data =====
const timeT = [400,500,600,700,800,900,1000,1100,1200,1300,1400,1500,1600,1700,1800,1900,2000,2100,2200,2300,2400,2500,2600,2700,2800,2900,3000,3100,3200,3300,3400,3500,3600,3700,3800,3900,4000,4100,4200,4300,4400,4500,4600,4700,4800,4900,5000];
const timeTicks = [400,700,1000,1300,1600,1900,2200,2500,2800,3100,3400,3700,4000,4300,4600,4900];
const fig2Labels = ['Model A', 'Model B', 'Model C', 'Model D'];
const mdotLogA = [-3.0,-1.2,-1.0,-0.9,-1.1,-1.3,-1.2,-1.4,-1.5,-1.3,-1.6,-1.7,-1.5,-1.8,-1.7,-1.6,-1.8,-1.9,-1.7,-1.8,-1.7,-1.6,-1.8,-1.9,-1.7,-1.8,-1.6,-1.7,-1.9,-1.8,-1.7,-1.6,-1.8,-1.7,-1.9,-1.8,-1.6,-1.7,-1.8,-1.9,-1.7,-1.6,-1.8,-1.7,-1.5,-1.7,-1.8];
const mdotLogB = [-3.2,-1.1,-1.3,-1.4,-1.6,-1.5,-1.7,-1.8,-1.9,-1.8,-2.0,-2.1,-1.9,-2.0,-2.1,-2.2,-2.0,-2.1,-2.2,-2.1,-2.0,-2.2,-2.3,-2.1,-2.2,-2.0,-2.1,-2.3,-2.2,-2.4,-2.2,-2.1,-2.3,-2.2,-2.0,-2.1,-2.2,-2.1,-2.0,-1.9,-2.1,-2.0,-1.9,-2.0,-2.1,-1.9,-2.0];
const mdotLogC = [-2.5,-0.3,-0.1,0.0,-0.2,-0.1,-0.3,0.0,-0.4,-0.2,-0.5,-0.3,-0.6,-0.4,-0.7,-0.5,-0.8,-0.6,-0.9,-0.7,-1.0,-1.2,-0.9,-1.1,-1.3,-1.0,-1.4,-1.2,-1.5,-1.3,-1.6,-1.2,-1.4,-1.7,-1.5,-1.3,-1.6,-1.8,-1.5,-1.7,-1.4,-1.9,-1.6,-1.8,-1.5,-1.9,-2.0];
const mdotLogD = [-2.8,-0.8,-0.6,-0.5,-0.7,-0.6,-0.8,-0.7,-0.9,-0.8,-1.0,-0.9,-1.1,-1.0,-1.2,-1.1,-1.3,-1.2,-1.4,-1.3,-1.5,-1.4,-1.6,-1.5,-1.7,-1.6,-1.8,-1.7,-1.9,-1.6,-1.8,-1.9,-1.7,-2.0,-1.8,-1.9,-1.7,-2.0,-1.8,-1.9,-2.1,-1.8,-2.0,-1.9,-1.7,-2.0,-1.9];
const mdotTicks = [0, -1, -2, -3, -4];
const phiA = [0.5,1.8,1.5,2.0,1.6,1.8,1.4,1.9,1.7,1.5,2.0,1.6,1.8,1.5,1.7,1.9,1.4,1.6,1.8,1.5,1.7,1.3,1.6,1.5,1.8,1.4,1.6,1.3,1.7,1.5,1.2,1.6,1.4,1.7,1.3,1.5,1.6,1.2,1.4,1.7,1.3,1.5,1.1,1.4,1.6,1.3,1.2];
const phiB = [0.5,1.2,1.8,1.5,2.0,1.7,1.9,1.6,2.1,1.8,1.7,2.0,1.8,2.2,1.9,1.7,2.1,1.8,2.0,2.3,1.9,2.1,2.4,2.0,2.2,1.9,2.3,2.5,2.1,2.4,2.2,2.6,2.3,2.8,2.4,2.2,2.7,2.5,3.0,2.6,2.3,2.8,2.5,2.7,2.2,2.6,2.4];
const phiC = [0.5,1.5,1.2,1.9,1.6,2.2,1.8,2.5,2.0,1.7,2.3,1.9,2.6,2.1,1.8,2.4,2.0,2.7,2.2,1.9,2.5,2.1,2.8,2.3,2.0,3.2,2.4,2.1,2.9,2.5,3.6,2.7,2.3,3.9,2.8,2.4,3.3,2.6,4.0,2.9,2.5,3.5,2.7,2.2,3.1,2.6,3.8];
const phiD = [0.5,1.3,1.0,1.4,1.1,0.9,1.2,1.0,0.8,1.1,0.9,1.0,0.8,0.9,1.1,0.8,1.0,0.7,0.9,0.8,1.0,0.7,0.9,0.8,0.7,0.9,0.8,1.0,0.7,0.8,0.9,0.7,0.8,0.6,0.9,0.7,0.8,0.7,0.9,0.6,0.8,0.7,0.9,0.6,0.8,0.7,0.6];
const phiTicks = [0, 1, 2, 3, 4];

// ===== Figure 3 data =====
const etaLogA = [-2.0,-1.5,-1.0,-0.5,-0.3,0.0,-0.2,0.1,0.0,-0.1,0.2,0.0,0.1,0.3,0.2,0.4,0.3,0.5,0.4,0.6,0.5,0.7,0.6,0.8,0.7,0.9,0.6,0.8,1.0,0.7,0.9,0.8,1.0,0.9,0.7,1.1,0.9,1.0,0.8,1.1,0.9,1.2,1.0,0.9,1.1,1.0,1.2];
const etaLogB = [-2.5,-1.8,-1.2,-0.6,-0.4,-0.2,-0.3,-0.1,-0.2,0.0,-0.1,0.1,0.0,0.2,0.1,0.3,0.2,0.3,0.2,0.4,0.3,0.3,0.4,0.3,0.4,0.5,0.4,0.4,0.5,0.4,0.5,0.4,0.5,0.5,0.4,0.5,0.6,0.5,0.5,0.6,0.5,0.6,0.5,0.6,0.6,0.5,0.6];
const etaLogC = [-6,-1,-3,-6,-2,-6,-4,-6,-1.5,-6,-3,-6,-6,-2.5,-6,-4,-6,-1,-6,-5,-2,-6,-6,-3,-6,-1.5,0.5,-6,-4,-6,0.8,-1,-6,0.3,-0.5,-0.8,-0.2,0.0,-0.6,-0.3,-0.1,0.2,-0.4,0.1,0.3,0.2,0.4];
const etaLogD = [-6,-2.5,-3.5,-2.8,-4,-3,-3.5,-2.5,-4,-3.2,-3.8,-2.9,-4.5,-3.5,-2.8,-3.6,-4.2,-3,-2.5,-3.8,-3.1,-4,-2.2,-1.5,-3.5,-6,-3,-2,-4,-6,-2.5,-3.8,-1.8,-3,-4,-2.6,-3.5,-1.5,-2.8,-3.2,-2,-2.5,-3,-1.6,-1.0,-2.2,-1.8];
const etaTicks = [0, -2, -4, -6];
const pjetLogA = [-5,-4,-3.5,-3.2,-3.0,-2.9,-2.8,-2.7,-2.6,-2.6,-2.5,-2.6,-2.5,-2.5,-2.6,-2.5,-2.5,-2.6,-2.6,-2.5,-2.5,-2.6,-2.6,-2.6,-2.6,-2.6,-2.6,-2.6,-2.6,-2.6,-2.6,-2.6,-2.6,-2.6,-2.6,-2.6,-2.6,-2.6,-2.6,-2.6,-2.6,-2.6,-2.6,-2.6,-2.6,-2.6,-2.6];
const pjetLogB = [-6,-4.5,-4.3,-4.3,-4.2,-4.2,-4.1,-4.1,-4.1,-4.0,-4.0,-4.1,-4.0,-4.0,-4.0,-4.1,-4.0,-4.0,-4.0,-4.0,-4.0,-4.1,-4.0,-4.0,-4.0,-4.0,-4.1,-4.0,-4.0,-4.0,-4.0,-4.0,-4.1,-4.0,-4.0,-4.0,-4.0,-4.0,-4.0,-4.1,-4.0,-4.0,-4.0,-4.0,-4.0,-4.0,-4.1];
const pjetLogC = [-10,-5,-7,-10,-6,-5.5,-10,-8,-5,-10,-7,-10,-10,-6,-10,-8,-10,-5,-6,-10,-7,-10,-10,-5.5,-10,-6,-3.6,-10,-8,-7,-5,-3.8,-4.5,-5.2,-4.8,-5.5,-5.0,-4.7,-5.3,-5.0,-4.6,-5.1,-4.9,-5.4,-4.8,-5.0,-5.2];
const pjetLogD = [-10,-6,-7,-8,-6.5,-7.5,-7,-8,-7.2,-6.8,-8.5,-7,-7.8,-6.5,-8,-7.2,-7,-6.8,-7.5,-8,-7,-6.5,-7.8,-7.2,-10,-6,-7.5,-8,-10,-7,-6.8,-8.2,-7.5,-7,-7.8,-6.5,-5,-4.8,-5.5,-6,-5.2,-4.6,-6.5,-7,-6,-7.5,-8];
const pjetTicks = [-1, -4, -7, -10];
const asymA = [1,-0.8,0.3,-0.2,0.1,0.4,0.2,-0.1,0.3,0.5,0.6,0.4,0.2,0.1,-0.1,0.0,-0.2,-0.1,0.0,-0.05,0.0,-0.03,0.0,0.02,-0.02,0.0,-0.03,0.0,0.0,-0.02,-0.03,0.0,-0.02,-0.03,-0.02,0.0,-0.03,-0.02,-0.03,-0.02,-0.04,-0.02,-0.03,-0.04,-0.03,-0.04,-0.05];
const asymB = [1,0.5,-0.3,0.2,-0.4,-0.1,0.1,-0.2,0.0,0.1,-0.1,0.05,0.0,-0.05,0.1,0.0,-0.1,0.05,0.0,-0.05,0.0,0.05,0.0,-0.05,0.0,0.05,0.0,0.1,0.05,0.0,0.05,0.1,0.05,0.0,0.05,0.1,0.15,0.1,0.2,0.3,0.25,0.2,0.1,0.15,0.1,0.05,0.1];
const asymC = [-1,1,-1,1,-1,0.5,1,-1,1,-0.5,1,-1,1,1,-1,0.3,1,-1,1,-1,0.8,-1,1,-0.4,1,1,-1,1,-1,1,1,0.9,-1,1,1,-1,-0.5,0.6,1,0.9,1,1,-0.8,0.9,1,1,1];
const asymD = [-1,-1,1,-1,1,-1,0.8,-1,1,-1,1,1,-1,1,-1,-1,1,-1,1,1,-1,1,-1,1,-1,1,1,-1,1,-1,1,-1,1,-1,-1,1,-1,1,1,-1,0.5,-0.8,1,-1,-1,0.6,-1];
const asymTicks = [1, 0, -1];

// ===== Figure 4 data: sigma = 1 contour (jet boundary) positions =====
const fig4Titles = ['Model A; t =3000.0M', 'Model B; t =3000.0M', 'Model C; t =3000.0M', 'Model D; t =3000.0M'];
const wideY = [40,30,20,10,5,2,0,-2,-5,-10,-20,-30,-40];
const wideEdgeA = [6,5,3.5,2,1,0.3,0,0.5,1,2.5,4,5.5,7];
const wideEdgeB = [8,11,12,6,3,1,0,1,2.5,5,8,9,10];
const wideEdgeC = [2.5,2.2,2,1.5,1,0.3,0,1,2,1.5,1.2,1,0.8];
const wideEdgeD = [0.5,0.5,0.5,0.3,0.2,0.1,0,1,2,4,7,10,12];
const wideBandA = [3,4,5,7,6,4,3,4,6,8,7,7,7];
const wideBandB = [2,3,4,5,4,2,1,3,6,9,12,10,9];
const wideBandC = [9,10,10,12,12,8,6,10,12,12,12,10,9];
const wideBandD = [6,8,10,10,6,3,1,4,8,10,12,14,14];
const zoomY = [10,7.5,5,2.5,1,0,-1,-2.5,-5,-7.5,-10];
const zoomEdgeA = [2.5,2,1.8,1.2,0.5,0,0.8,1.5,2.2,2.8,3.2];
const zoomEdgeB = [4.5,3.5,2.6,1.8,1.2,0,1.2,2,3.5,4.6,5.5];
const zoomEdgeC = [2,1.8,1.5,1,0.5,0,1,3,7,4,2];
const zoomEdgeD = [2,2,1.8,1.5,1,0,1.3,2.5,4,5.3,6.5];
const zoomBandA = [5,5,4,3,1,0.5,2,4,5,6,6];
const zoomBandB = [4,4,4,3,2,1,2,3,4,5,5];
const zoomBandC = [5,6,6,5,4,3,3,3,2,4,4];
const zoomBandD = [5,5,4,2,1,0.5,1,2,2,2,2];
const blobsWideX = [[10,3],[8],[7,7,5],[5]];
const blobsWideY = [[25,-5],[-3],[-15,-20,-8],[-25]];
const blobsZoomX = [[7,4.5,9.5],[6],[6.5,8.5,4],[3]];
const blobsZoomY = [[-4.5,-5.5,5.5],[-3],[5.5,-5.5,2],[-4]];
const cbarTicks = [1.0, 0.5, 0.0, -0.5, -1.0, -1.5, -2.0];

const NS = 'http://www.w3.org/2000/svg';
function mk(tag, attrs, parent) { const e = document.createElementNS(NS, tag); for (const k in attrs) e.setAttribute(k, attrs[k]); parent.appendChild(e); return e; }
function txt(s, attrs, parent) { const e = mk('text', attrs, parent); e.textContent = s; return e; }
function scaler(a0, a1, p0, p1) { return v => p0 + (v - a0) / (a1 - a0) * (p1 - p0); }

const RED = '#e02020', BLUE = '#2030e0';
const svg3 = document.getElementById('p3svg');
const defs3 = mk('defs', {}, svg3);
const rg = mk('radialGradient', { id: 'torusGrad', cx: '0.45', cy: '0.5', r: '0.75' }, defs3);
mk('stop', { offset: '0', 'stop-color': '#000' }, rg);
mk('stop', { offset: '0.35', 'stop-color': '#111' }, rg);
mk('stop', { offset: '0.8', 'stop-color': '#555' }, rg);
mk('stop', { offset: '1', 'stop-color': '#888' }, rg);

// ---- Figure 1 ----
const fig1Lx = [93, 267, 442, 616];
const loopSets = [[loopsAX, loopsARx, loopsARy, loopsAC], [loopsBX, loopsBRx, loopsBRy, loopsBC], [loopsCX, loopsCRx, loopsCRy, loopsCC], [loopsDX, loopsDRx, loopsDRy, loopsDC]];
fig1Models.forEach((m, i) => {
  const x0 = fig1Lx[i], x1 = x0 + 154, y0 = 163, y1 = 287;
  const sx = scaler(5, 25, x0, x1), sy = scaler(8, -8, y0, y1);
  const g = mk('g', {}, svg3);
  
  
  const cp = mk('clipPath', { id: 'cp1' + i }, defs3);
  mk('rect', { x: x0, y: y0, width: 154, height: 124 }, cp);
  const inner = mk('g', { 'clip-path': 'url(#cp1' + i + ')' }, g);
  mk('rect', { x: x0, y: y0, width: 154, height: 124, fill: 'url(#torusGrad)' }, inner);
  const wT = mk('polygon', { points: [sx(5), sy(8.5), sx(9.8), sy(8.5), sx(6.2), sy(0), sx(5), sy(0)].join(','), fill: '#fff' }, inner);
  
  
  const wB = mk('polygon', { points: [sx(5), sy(-8.5), sx(9.8), sy(-8.5), sx(6.2), sy(0), sx(5), sy(0)].join(','), fill: '#fff' }, inner);
  
  
  const L = loopSets[i];
  L[0].forEach((cx, k) => {
    const el = mk('ellipse', { cx: sx(cx), cy: sy(0), rx: Math.abs(sx(cx + L[1][k]) - sx(cx)), ry: Math.abs(sy(L[2][k]) - sy(0)), fill: 'none', stroke: L[3][k] === 'r' ? RED : BLUE, 'stroke-width': 1.1 }, inner);
    
    
  });
  mk('rect', { x: x0, y: y0, width: 154, height: 124, fill: 'none', stroke: '#000', 'stroke-width': 1.5 }, g);
  const t = txt(m + '; ', { x: (x0 + x1) / 2, y: 153, 'font-size': 11, 'font-family': 'DejaVu Sans, sans-serif', 'text-anchor': 'middle' }, g);
  const ts = mk('tspan', { 'font-style': 'italic', 'font-family': 'Liberation Serif, serif' }, t); ts.textContent = 't';
  const ts2 = mk('tspan', {}, t); ts2.textContent = ' =0.0';
  const ts3 = mk('tspan', { 'font-style': 'italic', 'font-family': 'Liberation Serif, serif' }, t); ts3.textContent = 'M';
  
  
  fig1XTicks.forEach(v => {
    mk('line', { x1: sx(v), x2: sx(v), y1: y1, y2: y1 + 4, stroke: '#000' }, g);
    const tl = txt(String(v), { x: sx(v), y: y1 + 15, 'font-size': 11, 'text-anchor': 'middle', 'font-family': 'Liberation Serif, serif' }, g);
    
    
  });
  if (i === 0) fig1YTicks.forEach(v => {
    mk('line', { x1: x0 - 4, x2: x0, y1: sy(v), y2: sy(v), stroke: '#000' }, g);
    const tl = txt(v < 0 ? '−' + (-v) : String(v), { x: x0 - 7, y: sy(v) + 4, 'font-size': 11, 'text-anchor': 'end', 'font-family': 'Liberation Serif, serif' }, g);
    
    
  });
});

// ---- generic line panel ----
function panel(svg, box, yr, yTicks, yFmt, series, colors, name) {
  const sx = scaler(400, 5000, box.x, box.x + box.w), sy = scaler(yr[1], yr[0], box.y, box.y + box.h);
  const g = mk('g', {}, svg);
  
  
  timeTicks.forEach(v => mk('line', { x1: sx(v), x2: sx(v), y1: box.y, y2: box.y + box.h, stroke: '#d0d0d0', 'stroke-width': 0.8 }, g));
  yTicks.forEach(v => {
    mk('line', { x1: box.x, x2: box.x + box.w, y1: sy(v), y2: sy(v), stroke: '#c8c8c8', 'stroke-width': 1 }, g);
    mk('line', { x1: box.x - 3, x2: box.x, y1: sy(v), y2: sy(v), stroke: '#000', 'stroke-width': 0.7 }, g);
    const tl = txt('', { x: box.x - 4, y: sy(v) + 2.5, 'font-size': 7, 'text-anchor': 'end', 'font-family': 'Liberation Serif, serif' }, g);
    yFmt(tl, v);
    
    
  });
  const cp = mk('clipPath', { id: name + '-clip' }, g);
  mk('rect', { x: box.x, y: box.y, width: box.w, height: box.h }, cp);
  series.forEach((s, k) => {
    const pts = s.map((v, j) => sx(timeT[j]).toFixed(1) + ',' + sy(Math.max(yr[0], Math.min(yr[1], v))).toFixed(1)).join(' ');
    const pl = mk('polyline', { points: pts, fill: 'none', stroke: colors[k], 'stroke-width': 0.9, 'stroke-opacity': 0.85, 'clip-path': 'url(#' + name + '-clip)' }, g);
    
    
  });
  mk('rect', { x: box.x, y: box.y, width: box.w, height: box.h, fill: 'none', stroke: '#333', 'stroke-width': 0.8 }, g);
  return { g, sx, sy };
}
function powFmt(el, v) { el.textContent = '10'; const s = mk('tspan', { dy: -3, 'font-size': 5 }, el); s.textContent = v === 0 ? '0' : '−' + (-v); }
function linFmt(el, v) { el.textContent = v < 0 ? '−' + (-v) : String(v); }
function xAxis(svg, sx, y, xlab, name) {
  const g = mk('g', {}, svg);
  
  
  timeTicks.forEach(v => {
    mk('line', { x1: sx(v), x2: sx(v), y1: y, y2: y + 3, stroke: '#000', 'stroke-width': 0.7 }, g);
    const tl = txt(String(v), { x: sx(v), y: y + 6, 'font-size': 6.5, 'font-family': 'Liberation Serif, serif', transform: 'rotate(50 ' + sx(v) + ' ' + (y + 6) + ')' }, g);
    
    
  });
  const xl = txt(xlab, { x: (sx(400) + sx(5000)) / 2, y: y + 30, 'font-size': 7, 'text-anchor': 'middle', 'font-family': 'Liberation Serif, serif' }, g);
  
  
}
function yTitle(svg, s, x, y, name) {
  const t = txt(s, { x: x, y: y, 'font-size': 7, 'text-anchor': 'middle', 'font-family': 'Liberation Serif, serif', transform: 'rotate(-90 ' + x + ' ' + y + ')' }, svg);
  
  
}
function legend(svg, x, y, colors) {
  const g = mk('g', {}, svg);
  
  
  mk('rect', { x: x, y: y, width: 82, height: 17, fill: '#fff', 'fill-opacity': 0.85, stroke: '#ccc', 'stroke-width': 0.6, rx: 1.5 }, g);
  const order = [0, 2, 1, 3];
  order.forEach((k, n) => {
    const cx = x + 4 + (n >= 2 ? 40 : 0), cy = y + 5 + (n % 2) * 7;
    const it = mk('g', {}, g);
    
    
    mk('line', { x1: cx, x2: cx + 10, y1: cy, y2: cy, stroke: colors[k], 'stroke-width': 1 }, it);
    txt(fig2Labels[k], { x: cx + 14, y: cy + 2, 'font-size': 4.5, 'font-family': 'DejaVu Sans, sans-serif' }, it);
  });
}
const COLS = ['#3a3aee', '#333333', '#ee3333', '#f5a030'];

// ---- Figure 2 ----
const f2a = panel(svg3, { x: 472, y: 397, w: 312, h: 103 }, [-4, 0], mdotTicks, powFmt, [mdotLogA, mdotLogB, mdotLogC, mdotLogD], COLS, 'fig2-mdot-panel');
legend(svg3, 698, 479, COLS);
const f2b = panel(svg3, { x: 472, y: 521, w: 312, h: 104 }, [0, 4], phiTicks, linFmt, [phiA, phiB, phiC, phiD], COLS, 'fig2-phi-panel');
xAxis(svg3, f2b.sx, 625, 't [GM/c³]', 'fig2-x-axis');
yTitle(svg3, 'Ṁ [code units]', 444, 448, 'fig2-upper-y-title');
yTitle(svg3, 'ϕ_BH/√Ṁ', 444, 573, 'fig2-lower-y-title');

// ---- Figure 3 ----
const svg4 = document.getElementById('p4svg');
const f3a = panel(svg4, { x: 96, y: 342, w: 320, h: 70 }, [-6.15, 1.33], etaTicks, powFmt, [etaLogA, etaLogB, etaLogC, etaLogD], COLS, 'fig3-eta-panel');
legend(svg4, 333, 393, COLS);
const f3b = panel(svg4, { x: 96, y: 425, w: 320, h: 68 }, [-10.1, -0.8], pjetTicks, powFmt, [pjetLogA, pjetLogB, pjetLogC, pjetLogD], COLS, 'fig3-pjet-panel');
const f3c = panel(svg4, { x: 96, y: 509, w: 320, h: 68 }, [-1.15, 1.2], asymTicks, linFmt, [asymA, asymB, asymC, asymD], COLS, 'fig3-asym-panel');
xAxis(svg4, f3c.sx, 577, 't [GM/c³]', 'fig3-x-axis');
yTitle(svg4, 'η [%]', 78, 377, 'fig3-eta-y-title');
yTitle(svg4, 'P_jet [code units]', 76, 459, 'fig3-pjet-y-title');
yTitle(svg4, '𝒫', 78, 543, 'fig3-asym-y-title');

// ---- Figure 4 ----
const svg5 = document.getElementById('p5svg');
const defs5 = mk('defs', {}, svg5);
const cmap = [['0', '#000000'], ['0.17', '#0a0aa0'], ['0.33', '#3c1cff'], ['0.5', '#a020f0'], ['0.67', '#f050c0'], ['0.83', '#ff9a50'], ['1', '#ffff60']];
const cg = mk('linearGradient', { id: 'cbar', x1: '0', y1: '1', x2: '0', y2: '0' }, defs5);
cmap.forEach(s => mk('stop', { offset: s[0], 'stop-color': s[1] }, cg));
const bandG = mk('linearGradient', { id: 'bandG', x1: '0', y1: '0', x2: '1', y2: '0' }, defs5);
[['0', '#e050d0', 0.85], ['0.25', '#8020e0', 0.65], ['0.6', '#1818c0', 0.4], ['1', '#000060', 0]].forEach(s => mk('stop', { offset: s[0], 'stop-color': s[1], 'stop-opacity': s[2] }, bandG));
const jetFills = [['#ffffff', '#fff8f0'], ['#ffc040', '#fff8e0'], ['#8030d0', '#1a0a80'], ['#7020c0', '#ffffa0']];
const jetFillsZoom = [['#e060c0', '#ffffff'], ['#ffff80', '#ffffff'], ['#ffffc0', '#ffff60'], ['#f060c0', '#ffffd0']];
jetFills.concat(jetFillsZoom).forEach((f, i) => {
  const lg = mk('linearGradient', { id: 'jet' + i, x1: '0', y1: '0', x2: '0', y2: '1' }, defs5);
  mk('stop', { offset: '0', 'stop-color': f[0] }, lg);
  mk('stop', { offset: '0.45', 'stop-color': f[0] }, lg);
  mk('stop', { offset: '0.55', 'stop-color': f[1] }, lg);
  mk('stop', { offset: '1', 'stop-color': f[1] }, lg);
});
const wideEdges = [wideEdgeA, wideEdgeB, wideEdgeC, wideEdgeD];
const wideBands = [wideBandA, wideBandB, wideBandC, wideBandD];
const zoomEdges = [zoomEdgeA, zoomEdgeB, zoomEdgeC, zoomEdgeD];
const zoomBands = [zoomBandA, zoomBandB, zoomBandC, zoomBandD];

function sigmaPanel(box, xr, yr, ys, edge, band, bx, by, gradId, title, name, xTicks, yTicks, showY, bhR) {
  const sx = scaler(xr[0], xr[1], box.x, box.x + box.w), sy = scaler(yr[1], yr[0], box.y, box.y + box.h);
  const g = mk('g', {}, svg5);
  
  
  const cp = mk('clipPath', { id: name + '-clip' }, defs5);
  mk('rect', { x: box.x, y: box.y, width: box.w, height: box.h }, cp);
  const inner = mk('g', { 'clip-path': 'url(#' + name + '-clip)' }, g);
  mk('rect', { x: box.x, y: box.y, width: box.w, height: box.h, fill: '#000' }, inner);
  const bandPts = ys.map((y, k) => sx(edge[k]) + ',' + sy(y)).concat(ys.slice().reverse().map((y, k) => { const j = ys.length - 1 - k; return sx(edge[j] + band[j]) + ',' + sy(y); }));
  const bp = mk('polygon', { points: bandPts.join(' '), fill: 'url(#bandG)' }, inner);
  
  
  const jetPts = [sx(xr[0] - 1) + ',' + sy(ys[0])].concat(ys.map((y, k) => sx(edge[k]) + ',' + sy(y))).concat([sx(xr[0] - 1) + ',' + sy(ys[ys.length - 1])]);
  const jp = mk('polygon', { points: jetPts.join(' '), fill: 'url(#' + gradId + ')' }, inner);
  
  
  bx.forEach((x, k) => {
    const c = mk('circle', { cx: sx(x), cy: sy(by[k]), r: 3.5, fill: 'none', stroke: '#f060d0', 'stroke-width': 2 }, inner);
    
    
  });
  const ep = mk('polyline', { points: ys.map((y, k) => sx(edge[k]) + ',' + sy(y)).join(' '), fill: 'none', stroke: '#40d040', 'stroke-width': 2.6, 'stroke-linejoin': 'round' }, inner);
  
  
  const bh = mk('circle', { cx: sx(0), cy: sy(0), r: Math.abs(sx(bhR) - sx(0)), fill: '#000' }, inner);
  
  
  mk('rect', { x: box.x, y: box.y, width: box.w, height: box.h, fill: 'none', stroke: '#000', 'stroke-width': 1 }, g);
  const t = txt(title, { x: box.x + box.w / 2, y: box.y - 6, 'font-size': 9, 'text-anchor': 'middle', 'font-family': 'DejaVu Sans, sans-serif' }, g);
  
  
  xTicks.forEach(v => {
    mk('line', { x1: sx(v), x2: sx(v), y1: box.y + box.h, y2: box.y + box.h + 3, stroke: '#000' }, g);
    const tl = txt(String(v), { x: sx(v), y: box.y + box.h + 13, 'font-size': 8.5, 'text-anchor': 'middle', 'font-family': 'Liberation Serif, serif' }, g);
    
    
  });
  const xl = txt('x[M]', { x: box.x + box.w / 2, y: box.y + box.h + 31, 'font-size': 11, 'font-style': 'italic', 'text-anchor': 'middle', 'font-family': 'Liberation Serif, serif' }, g);
  
  
  if (showY) {
    yTicks.forEach(v => {
      mk('line', { x1: box.x - 3, x2: box.x, y1: sy(v), y2: sy(v), stroke: '#000' }, g);
      const s = (yr[1] === 10 ? Math.abs(v).toFixed(1) : String(Math.abs(v)));
      const tl = txt((v < 0 ? '−' : '') + s, { x: box.x - 5, y: sy(v) + 3, 'font-size': 8.5, 'text-anchor': 'end', 'font-family': 'Liberation Serif, serif' }, g);
      
      
    });
    const yl = txt('y[M]', { x: box.x - 40, y: box.y + box.h / 2, 'font-size': 11, 'font-style': 'italic', 'text-anchor': 'middle', 'font-family': 'Liberation Serif, serif', transform: 'rotate(-90 ' + (box.x - 40) + ' ' + (box.y + box.h / 2) + ')' }, g);
    
    
  }
}
const wideX = [128, 274, 419, 564], zoomXs = [137, 280, 423, 567];
for (let i = 0; i < 4; i++) {
  sigmaPanel({ x: wideX[i], y: 160, w: 129, h: 343 }, [0, 30], [-40, 40], wideY, wideEdges[i], wideBands[i], blobsWideX[i], blobsWideY[i], 'jet' + i, fig4Titles[i], 'fig4-wide-panel-' + 'abcd'[i], [0, 10, 20, 30], [40, 30, 20, 10, 0, -10, -20, -30, -40], i === 0, 1.35);
  sigmaPanel({ x: zoomXs[i], y: 561, w: 127, h: 252 }, [0, 10], [-10, 10], zoomY, zoomEdges[i], zoomBands[i], blobsZoomX[i], blobsZoomY[i], 'jet' + (i + 4), fig4Titles[i], 'fig4-zoom-panel-' + 'abcd'[i], [0, 5, 10], [10, 7.5, 5, 2.5, 0, -2.5, -5, -7.5, -10], i === 0, 1.35);
}
function colorbar(y0, h, name) {
  const g = mk('g', {}, svg5);
  
  
  mk('rect', { x: 700, y: y0, width: 6.5, height: h, fill: 'url(#cbar)', stroke: '#000', 'stroke-width': 0.6 }, g);
  const sy = scaler(1, -2, y0, y0 + h);
  cbarTicks.forEach(v => {
    mk('line', { x1: 706.5, x2: 709.5, y1: sy(v), y2: sy(v), stroke: '#000', 'stroke-width': 0.6 }, g);
    const tl = txt((v < 0 ? '−' : '') + Math.abs(v).toFixed(1), { x: 712, y: sy(v) + 3, 'font-size': 8.5, 'font-family': 'Liberation Serif, serif' }, g);
    
    
  });
  const lx = 756, ly = y0 + h / 2;
  const lab = txt('log10(σ)', { x: lx, y: ly, 'font-size': 10, 'text-anchor': 'middle', 'font-family': 'Liberation Serif, serif', transform: 'rotate(-90 ' + lx + ' ' + ly + ')' }, g);
  
  
}
colorbar(160, 343, 'colorbar-wide');
colorbar(561, 252, 'colorbar-zoom');
</script>
</body></html>
